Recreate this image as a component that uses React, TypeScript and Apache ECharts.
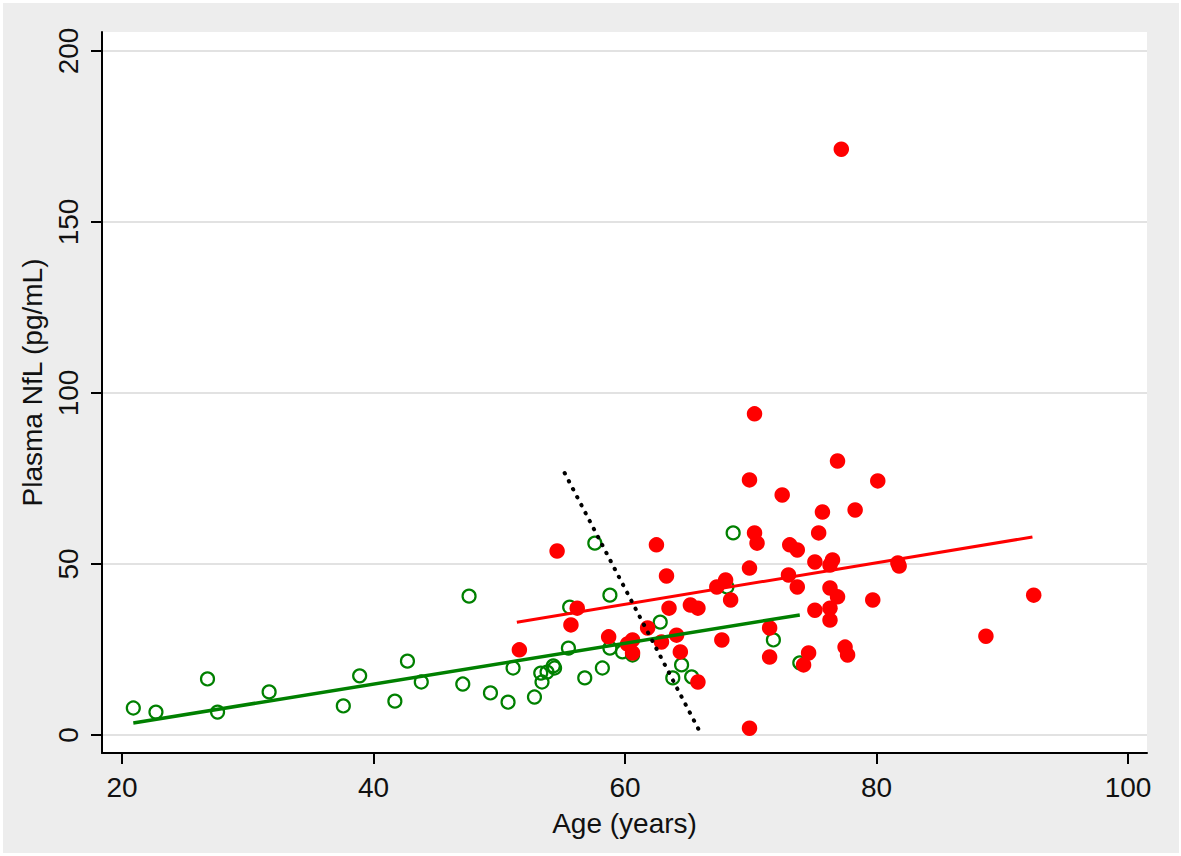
import React, { useEffect, useRef } from "react";
import * as echarts from "echarts";

const xTicks = [20, 40, 60, 80, 100];
const yTicks = [0, 50, 100, 150, 200];

// Green hollow circles: [age, plasma NfL]
const greenPoints: [number, number][] = [
  [20.9, 7.9], [22.7, 6.7], [26.8, 16.4], [27.6, 6.7], [31.7, 12.6],
  [37.6, 8.5], [38.9, 17.3], [41.7, 9.9], [42.7, 21.6], [43.8, 15.5],
  [47.1, 14.9], [47.6, 40.6], [49.3, 12.3], [50.7, 9.6], [51.1, 19.6],
  [52.8, 11.1], [53.3, 18.1], [53.8, 18.4], [53.4, 15.5], [54.3, 20.2],
  [54.4, 19.6], [55.5, 25.4], [55.6, 37.4], [56.8, 16.7], [57.6, 56.1],
  [58.2, 19.6], [58.8, 40.9], [58.8, 25.4], [59.8, 24.3], [60.6, 23.4],
  [62.8, 33.0], [63.8, 16.7], [64.5, 20.5], [65.3, 17.0], [68.6, 59.1],
  [68.1, 43.3], [71.8, 27.8], [73.9, 21.1],
];

// Red filled circles: [age, plasma NfL]
const redPoints: [number, number][] = [
  [51.6, 24.9], [54.6, 53.8], [56.2, 37.1], [55.7, 32.2], [58.7, 28.7],
  [60.2, 26.6], [60.6, 27.8], [60.6, 24.0], [61.8, 31.3], [62.5, 55.6],
  [63.3, 46.5], [63.5, 37.1], [62.9, 27.2], [64.1, 29.2], [64.4, 24.3],
  [65.8, 15.5], [65.2, 38.0], [65.8, 37.1], [67.7, 27.8], [68.4, 39.5],
  [68.0, 45.3], [67.3, 43.3], [69.9, 48.8], [70.3, 59.1], [70.5, 56.1],
  [69.9, 74.6], [70.3, 93.9], [72.5, 70.2], [73.0, 46.8], [73.7, 43.3],
  [73.1, 55.6], [73.7, 54.1], [71.5, 31.3], [71.5, 22.8], [69.9, 2.0],
  [75.1, 50.6], [75.4, 59.1], [75.7, 65.2], [76.5, 51.2], [76.3, 49.7],
  [76.3, 43.0], [76.9, 40.4], [75.1, 36.5], [76.3, 37.1], [76.3, 33.6],
  [74.6, 24.0], [74.2, 20.5], [77.5, 25.7], [77.7, 23.4], [76.9, 80.1],
  [78.3, 65.8], [80.1, 74.3], [79.7, 39.5], [77.2, 171.3], [81.8, 49.4],
  [81.7, 50.3], [88.7, 28.9], [92.5, 40.9],
];

// Fitted lines
const greenFit: [number, number][] = [[20.9, 3.5], [73.9, 35.1]];
const redFit: [number, number][] = [[51.4, 33.0], [92.4, 57.9]];
const dividerLine: [number, number][] = [[55.2, 76.6], [66.0, 0.6]];

const FONT = "'Liberation Sans', Arial, sans-serif";

export default function App() {
  const ref = useRef<HTMLDivElement>(null);
  useEffect(() => {
    if (!ref.current) return;
    const chart = echarts.init(ref.current, null, { renderer: "svg" });
    chart.setOption({
      animation: false,
      backgroundColor: "#ededed",
      grid: {
        left: 99,
        top: 29,
        right: 32,
        bottom: 100,
        show: true,
        backgroundColor: "#ffffff",
        borderWidth: 0,
        containLabel: false,
      },
      xAxis: {
        type: "value",
        min: 18.41,
        max: 101.51,
        name: "Age (years)",
        nameLocation: "middle",
        nameGap: 56,
        nameTextStyle: { fontSize: 28, color: "#111", fontFamily: FONT },
        axisLine: { show: true, onZero: false, lineStyle: { color: "#000", width: 2 } },
        axisTick: {
          show: true,
          customValues: xTicks,
          length: 11,
          lineStyle: { color: "#000", width: 2 },
        },
        axisLabel: {
          customValues: xTicks,
          fontSize: 28,
          color: "#111",
          fontFamily: FONT,
          margin: 20,
        },
        splitLine: { show: false },
      },
      yAxis: {
        type: "value",
        min: -5.26,
        max: 205.56,
        name: "Plasma NfL (pg/mL)",
        nameLocation: "middle",
        nameGap: 50,
        nameTextStyle: { fontSize: 28, color: "#111", fontFamily: FONT, padding: [0, 0, 0, 20] },
        axisLine: { show: true, onZero: false, lineStyle: { color: "#000", width: 2 } },
        axisTick: {
          show: true,
          customValues: yTicks,
          length: 11,
          lineStyle: { color: "#000", width: 2 },
        },
        axisLabel: {
          customValues: yTicks,
          fontSize: 28,
          color: "#111",
          fontFamily: FONT,
          rotate: 90,
          margin: 20,
        },
        splitLine: { show: true, lineStyle: { color: "#e2e2e2", width: 2 } },
      },
      series: [
        {
          type: "scatter",
          data: greenPoints,
          symbol: "circle",
          symbolSize: 13,
          silent: true,
          itemStyle: { color: "rgba(255,255,255,0)", borderColor: "#008000", borderWidth: 2.2, opacity: 1 },
        },
        {
          type: "scatter",
          data: redPoints,
          symbol: "circle",
          symbolSize: 15.5,
          silent: true,
          itemStyle: { color: "#ff0000", opacity: 1 },
        },
        {
          type: "line",
          data: greenFit,
          showSymbol: false,
          silent: true,
          lineStyle: { color: "#008000", width: 3.5 },
        },
        {
          type: "line",
          data: redFit,
          showSymbol: false,
          silent: true,
          lineStyle: { color: "#ff0000", width: 3 },
        },
        {
          type: "line",
          data: dividerLine,
          showSymbol: false,
          silent: true,
          lineStyle: { color: "#000", width: 4, type: [0.5, 8.5], cap: "round" },
        },
      ],
    });
    return () => chart.dispose();
  }, []);
  return (
    <div
      ref={ref}
      style={{ position: "absolute", left: 3, top: 3, width: 1176, height: 850 }}
    />
  );
}
